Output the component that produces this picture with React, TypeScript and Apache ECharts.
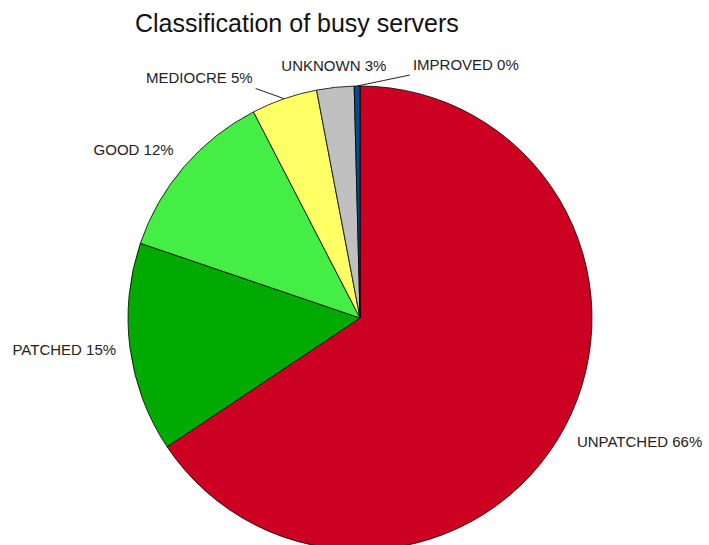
import React, { useEffect, useRef } from "react";
import * as echarts from "echarts";

const titleText = "Classification of busy servers";
const categories = ["UNPATCHED", "PATCHED", "GOOD", "MEDIOCRE", "UNKNOWN", "IMPROVED"];
const shares = [65.7, 14.6, 12.2, 4.6, 2.6, 0.4];
const colors = ["#cc0020", "#00aa00", "#44ee44", "#ffff66", "#c0c0c0", "#004c8c"];
// labels pushed sideways (px) to avoid overlap, drawn with a leader line
const shiftedLabels: Record<string, number> = { MEDIOCRE: -27, IMPROVED: 56 };

export default function App() {
  const ref = useRef<HTMLDivElement>(null);

  useEffect(() => {
    const chart = echarts.init(ref.current!, null, { renderer: "svg" });
    const GAP = 14;

    const labelLayout = (params: any) => {
      const data = (chart as any).getModel().getSeriesByIndex(0).getData();
      const lay = data.getItemLayout(params.dataIndex);
      if (!lay) return {};
      const mid = (lay.startAngle + lay.endAngle) / 2;
      const ux = Math.cos(mid);
      const uy = Math.sin(mid);
      const ex = lay.cx + lay.r * ux;
      const ey = lay.cy + lay.r * uy;
      let x = lay.cx + (lay.r + GAP) * ux;
      const y = lay.cy + (lay.r + GAP) * uy;
      const align = Math.abs(ux) < 0.2 ? "center" : ux > 0 ? "left" : "right";
      const verticalAlign = Math.abs(uy) < 0.2 ? "middle" : uy > 0 ? "top" : "bottom";
      const name = categories[params.dataIndex];
      const shift = shiftedLabels[name];
      const res: any = { x, y, align, verticalAlign };
      if (shift) {
        x += shift;
        res.x = x;
        res.align = shift > 0 ? "left" : "right";
        const endX = x + (shift > 0 ? -3 : 3);
        const endY = y + 3;
        res.labelLinePoints = [
          [ex, ey],
          [(ex + endX) / 2, (ey + endY) / 2],
          [endX, endY],
        ];
      }
      return res;
    };

    chart.setOption({
      animation: false,
      backgroundColor: "#ffffff",
      title: {
        text: titleText,
        left: 130,
        top: 5,
        textStyle: {
          fontSize: 25,
          fontWeight: "normal",
          color: "#111111",
          fontFamily: "Liberation Sans, Arial, sans-serif",
        },
      },
      series: [
        {
          type: "pie",
          center: [360, 318],
          radius: 232,
          startAngle: 90,
          clockwise: true,
          avoidLabelOverlap: false,
          emphasis: { disabled: true },
          itemStyle: { borderColor: "#000000", borderWidth: 0.8 },
          label: {
            show: true,
            position: "outside",
            fontSize: 15,
            color: "#222222",
            fontFamily: "Liberation Sans, Arial, sans-serif",
            formatter: (p: any) => `${p.name} ${Math.round(p.value)}%`,
          },
          labelLine: {
            length: 10,
            length2: 0,
            smooth: false,
            lineStyle: { color: "#222222", width: 1 },
          },
          labelLayout,
          data: categories.map((name, i) => ({
            name,
            value: shares[i],
            itemStyle: { color: colors[i] },
            labelLine: { show: shiftedLabels[name] !== undefined },
          })),
        },
      ],
    });

    return () => chart.dispose();
  }, []);

  return (
    <div
      ref={ref}
      style={{ position: "absolute", left: 0, top: 0, width: 709, height: 545 }}
    />
  );
}
